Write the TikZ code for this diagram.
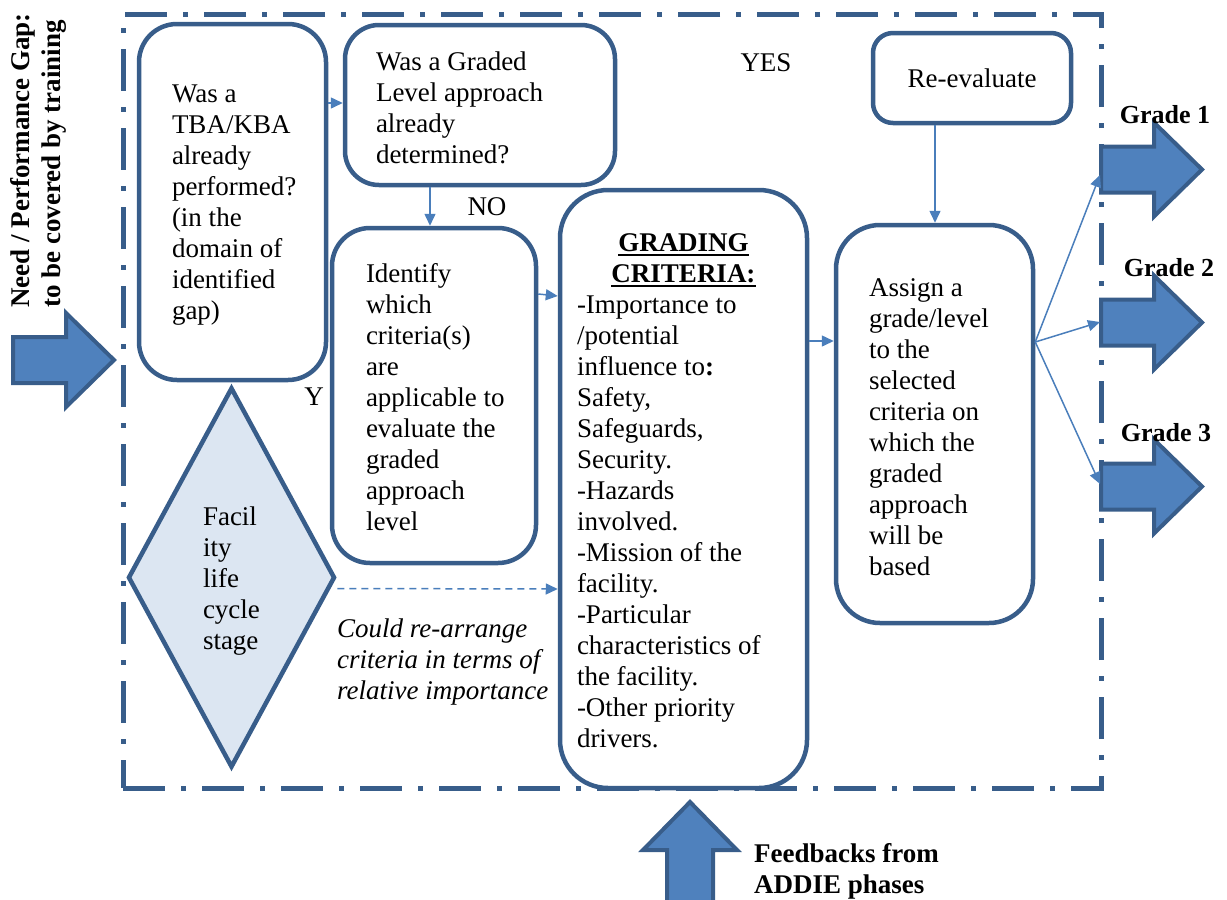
\documentclass[tikz,border=0pt]{standalone}
\usepackage{fontspec}
\setmainfont{Liberation Serif}
\usetikzlibrary{arrows.meta,shapes.geometric}
\definecolor{boxline}{RGB}{56,93,138}
\definecolor{arrfill}{RGB}{79,129,189}
\definecolor{diafill}{RGB}{220,230,242}
\definecolor{conncol}{RGB}{74,126,187}
\newcommand\myul[1]{\setbox0\hbox{#1}\rlap{\rule[-5pt]{\wd0}{2.2pt}}\box0}
\newcommand\txtblock[3][-5pt]{\raisebox{#1}[\height][\depth]{\makebox[#2][l]{\begin{tabular}{@{}l@{}}#3\end{tabular}}}}
\tikzset{
  basefont/.style={font=\fontsize{27}{31}\selectfont},
  boldfont/.style={font=\fontsize{27}{31}\selectfont\bfseries},
  flowbox/.style={draw=boxline, line width=4.5pt, rounded corners=38pt, inner sep=0pt, basefont},
  frameline/.style={draw=boxline, line width=5pt, dash pattern=on 42pt off 16pt on 5pt off 16pt},
  conn/.style={draw=conncol, line width=1.5pt, -{Triangle[length=12pt,width=11pt]}},
  dashconn/.style={conn, dash pattern=on 7pt off 5pt},
  gradelab/.style={font=\fontsize{26}{30}\selectfont\bfseries, inner sep=0pt},
  fatarrow/.pic={\filldraw[fill=arrfill, draw=boxline, line width=4pt, line join=miter]
    (0,-23) -- (53,-23) -- (53,-47) -- (101,0) -- (53,47) -- (53,23) -- (0,23) -- cycle;}
}
\begin{document}
\begin{tikzpicture}[x=1pt,y=-1pt]
\useasboundingbox (0,0) rectangle (1227,900);
% frame
\node[frameline, minimum width=978pt, minimum height=774pt, inner sep=0pt] (frm) at (612,401) {};
% big arrows
\pic at (13,360) {fatarrow};
\pic at (1101,169.5) {fatarrow};
\pic at (1101,322.5) {fatarrow};
\pic at (1101,486.5) {fatarrow};
\pic[rotate=90] at (690,903) {fatarrow};
\coordinate (g1) at (1100,175);
\coordinate (g2) at (1100,322);
\coordinate (g3) at (1100,484);
% boxes
\node[flowbox, minimum width=187pt, minimum height=356pt] (b1) at (232.5,202)
  {\txtblock[-3pt]{121pt}{Was a\\TBA/KBA\\already\\performed?\\(in the\\domain of\\identified\\gap)}};
\node[flowbox, rounded corners=34pt, minimum width=270pt, minimum height=160pt] (b2) at (480,105)
  {\txtblock[-6pt]{208pt}{Was a Graded\\Level approach\\already\\determined?}};
\node[flowbox, minimum width=204pt, minimum height=335pt] (b3) at (434,395.5)
  {\txtblock[-5pt]{136pt}{Identify\\which\\criteria(s)\\are\\applicable to\\evaluate the\\graded\\approach\\level}};
\node[flowbox, rounded corners=48pt, minimum width=247pt, minimum height=598pt] (b4) at (683.5,489)
  {\txtblock[-4pt]{213pt}{\makebox[213pt]{\bfseries\myul{GRADING}}\\
   \makebox[213pt]{\bfseries\myul{CRITERIA:}}\\
   -Importance to\\/potential\\influence to\textbf{:}\\Safety,\\Safeguards,\\Security.\\-Hazards\\involved.\\-Mission of the\\facility.\\-Particular\\characteristics of\\the facility.\\-Other priority\\drivers.}};
\node[flowbox, rounded corners=44pt, minimum width=197pt, minimum height=398pt] (b5) at (934.5,424)
  {\txtblock[-6pt]{131pt}{Assign a\\grade/level\\to the\\selected\\criteria on\\which the\\graded\\approach\\will be\\based}};
\node[flowbox, rounded corners=20pt, minimum width=198pt, minimum height=90pt] (re) at (972,78)
  {Re-evaluate};
\node[diamond, draw=boxline, fill=diafill, line width=4.5pt, minimum width=207pt, minimum height=380pt,
  inner sep=0pt, aspect=0.545, basefont] (dia) at (231.5,577.5)
  {\txtblock[-4pt]{57pt}{Facil\\ity\\life\\cycle\\stage}};
% connectors
\draw[conn] (b1.east |- 0,103) -- (b2.west |- 0,103);
\draw[conn] (b2.south -| 430,0) -- (b3.north -| 430,0);
\draw[conn] (b3.east |- 0,294) -- (b4.west |- 0,296);
\draw[conn] (b4.east |- 0,341) -- (b5.west |- 0,341);
\draw[conn] (re.south -| 935,0) -- (b5.north -| 935,0);
\draw[conn] (b5.east |- 0,342) -- (g1);
\draw[conn] (b5.east |- 0,342) -- (g2);
\draw[conn] (b5.east |- 0,342) -- (g3);
\draw[dashconn] ([yshift=-11pt]dia.east) -- (b4.west |- 0,589);
% labels
\node[basefont, inner sep=0pt] (yes) at (766,63) {YES};
\node[basefont, inner sep=0pt] (no) at (487,207) {NO};
\node[basefont, inner sep=0pt] (ylab) at (314,397) {Y};
\node[font=\fontsize{27}{31}\selectfont\itshape, align=left, anchor=west, inner sep=0pt] (note) at (337,662)
  {Could re-arrange\\criteria in terms of\\relative importance};
\node[boldfont, align=left, anchor=west, inner sep=0pt] (fb) at (754,871) {Feedbacks from\\ADDIE phases};
\node[boldfont, rotate=90, anchor=west, inner sep=0pt] (need1) at (23,308) {Need / Performance Gap:};
\node[boldfont, rotate=90, anchor=west, inner sep=0pt] (need2) at (54,308) {to be covered by training};
\node[gradelab] (gl1) at (1165,115) {Grade 1};
\node[gradelab] (gl2) at (1169,268) {Grade 2};
\node[gradelab] (gl3) at (1166,433) {Grade 3};
\end{tikzpicture}
\end{document}
